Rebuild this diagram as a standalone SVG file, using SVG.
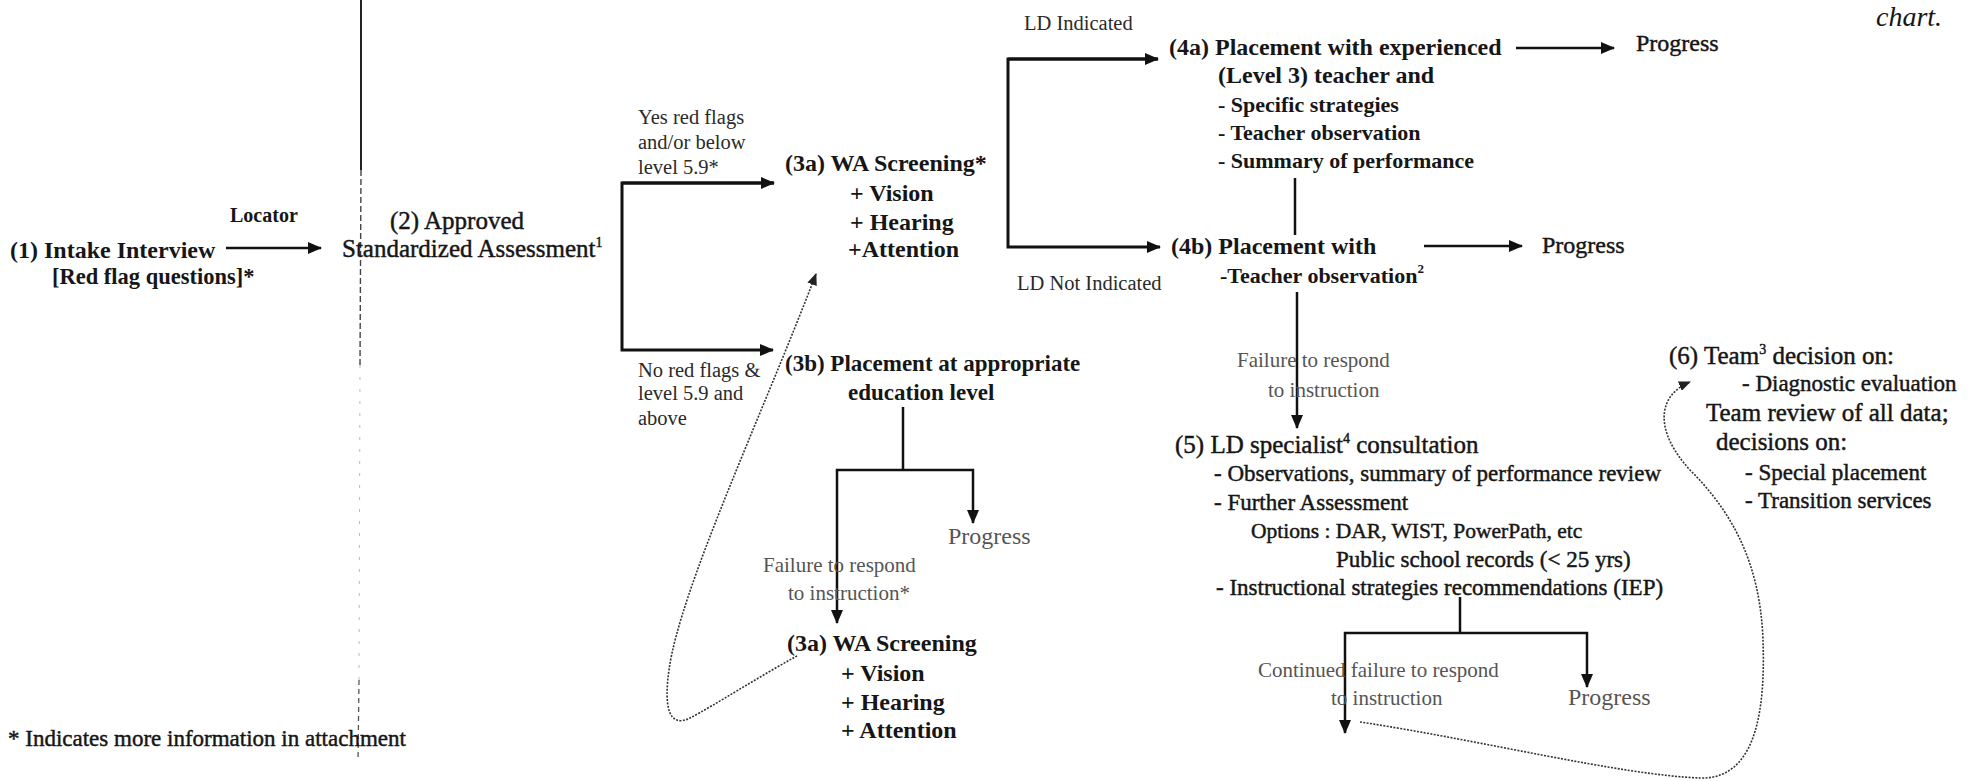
<svg xmlns="http://www.w3.org/2000/svg" width="1973" height="781" viewBox="0 0 1973 781">
<style>
text{font-family:"Liberation Serif","Times New Roman",serif;fill:#161616}
.b{font-weight:bold}
.r{stroke:#161616;stroke-width:0.45}
.m24{font-size:24px}
.m25{font-size:25px}
.m23{font-size:23px}
.m22{font-size:22px}
.lbl{font-size:20.5px;fill:#2a2a2a}
.gl{font-size:21px;fill:#555}
.gp{font-size:24px;fill:#555}
.ln{stroke:#111;stroke-width:2.5;fill:none}
.br{stroke:#111;stroke-width:3;fill:none}
.dot{stroke:#333;stroke-width:1.6;stroke-dasharray:2 1.4;fill:none}
</style>
<defs>
<marker id="ah" markerUnits="userSpaceOnUse" markerWidth="14" markerHeight="12" refX="13" refY="6" orient="auto">
<path d="M0,0 L14,6 L0,12 z" fill="#111"/>
</marker>
<marker id="ahs" markerUnits="userSpaceOnUse" markerWidth="12" markerHeight="10" refX="11" refY="5" orient="auto">
<path d="M0,0 L12,5 L0,10 z" fill="#222"/>
</marker>
</defs>
<rect width="1973" height="781" fill="#fff"/>

<g id="scanline">
<path d="M361 0 L361 170" stroke="#222" stroke-width="2" fill="none"/>
<path d="M361 170 L360 365" stroke="#444" stroke-width="1.4" stroke-dasharray="6 3" fill="none"/>
<path d="M360 365 L359 680" stroke="#bbb" stroke-width="1" stroke-dasharray="3 9" fill="none"/>
<path d="M359 680 L358 760" stroke="#555" stroke-width="1.3" stroke-dasharray="5 4" fill="none"/>
</g>

<g id="handwriting">
<text x="1876" y="26" font-size="28" font-style="italic" style="font-family:'Liberation Serif',serif">chart.</text>
</g>

<g id="n1">
<text class="b m24" x="10" y="258">(1) Intake Interview</text>
<text class="b" font-size="22.5" x="52" y="284">[Red flag questions]*</text>
</g>

<g id="n2">
<text class="m25 r" x="390" y="229">(2) Approved</text>
<text class="m25 r" x="342" y="257">Standardized Assessment<tspan font-size="14" dy="-10">1</tspan></text>
</g>

<g id="n3a">
<text class="b m24" x="785" y="171">(3a) WA Screening*</text>
<text class="b m24" x="850" y="201">+ Vision</text>
<text class="b m24" x="850" y="230">+ Hearing</text>
<text class="b m24" x="848" y="257">+Attention</text>
</g>

<g id="n3b">
<text class="b m23" x="785" y="371">(3b) Placement at appropriate</text>
<text class="b m23" x="848" y="400">education level</text>
</g>

<g id="n3a2">
<text class="b m24" x="787" y="651">(3a) WA Screening</text>
<text class="b m24" x="841" y="681">+ Vision</text>
<text class="b m24" x="841" y="710">+ Hearing</text>
<text class="b m24" x="841" y="738">+ Attention</text>
</g>

<g id="n4a">
<text class="b m24" x="1169" y="55">(4a) Placement with experienced</text>
<text class="b m24" x="1218" y="83">(Level 3) teacher and</text>
<text class="b m22" x="1218" y="112">- Specific strategies</text>
<text class="b m22" x="1218" y="140">- Teacher observation</text>
<text class="b m22" x="1218" y="168">- Summary of performance</text>
</g>

<g id="n4b">
<text class="b m24" x="1171" y="254">(4b) Placement with</text>
<text class="b m22" x="1220" y="283">-Teacher observation<tspan font-size="13" dy="-10">2</tspan></text>
</g>

<g id="p4a"><text class="m24 r" x="1636" y="51">Progress</text></g>
<g id="p4b"><text class="m24 r" x="1542" y="253">Progress</text></g>
<g id="p3b"><text class="gp" x="948" y="544">Progress</text></g>
<g id="p5"><text class="gp" x="1568" y="705">Progress</text></g>

<g id="n5">
<text class="m25 r" x="1175" y="453">(5) LD specialist<tspan font-size="14" dy="-10">4</tspan><tspan dy="10"> consultation</tspan></text>
<text class="m23 r" x="1214" y="481">- Observations, summary of performance review</text>
<text class="m23 r" x="1214" y="510">- Further Assessment</text>
<text class="r" x="1251" y="538" font-size="21.5">Options : DAR, WIST, PowerPath, etc</text>
<text class="m23 r" x="1336" y="567">Public school records (&lt; 25 yrs)</text>
<text class="m23 r" x="1216" y="595">- Instructional strategies recommendations (IEP)</text>
</g>

<g id="n6">
<text class="m25 r" x="1669" y="364">(6) Team<tspan font-size="14" dy="-10">3</tspan><tspan dy="10"> decision on:</tspan></text>
<text class="m23 r" x="1742" y="391">- Diagnostic evaluation</text>
<text class="m25 r" x="1706" y="421">Team review of all data;</text>
<text class="m25 r" x="1716" y="450">decisions on:</text>
<text class="m23 r" x="1745" y="480">- Special placement</text>
<text class="m23 r" x="1745" y="508">- Transition services</text>
</g>

<g id="footnote">
<text class="m23 r" x="8" y="746">* Indicates more information in attachment</text>
</g>

<g id="connectors">
<line class="ln" x1="226" y1="248" x2="321" y2="248" marker-end="url(#ah)"/>
<path class="br" d="M774 183 L622 183 L622 350 L773 350" marker-end="url(#ah)"/>
<line class="br" x1="622" y1="183" x2="774" y2="183" marker-end="url(#ah)"/>
<path class="br" d="M1158 59 L1008 59 L1008 247 L1160 247" marker-end="url(#ah)"/>
<line class="br" x1="1008" y1="59" x2="1158" y2="59" marker-end="url(#ah)"/>
<line class="ln" x1="1516" y1="48" x2="1614" y2="48" marker-end="url(#ah)"/>
<line class="ln" x1="1295" y1="178" x2="1295" y2="235"/>
<line class="ln" x1="1424" y1="246" x2="1522" y2="246" marker-end="url(#ah)"/>
<line class="ln" x1="1297" y1="292" x2="1297" y2="428" marker-end="url(#ah)"/>
<path class="ln" d="M903 407 L903 470"/>
<path class="ln" d="M903 470 L973 470 L973 523" marker-end="url(#ah)"/>
<path class="ln" d="M903 470 L837 470 L837 623" marker-end="url(#ah)"/>
<path class="ln" d="M1460 597 L1460 633"/>
<path class="ln" d="M1460 633 L1587 633 L1587 687" marker-end="url(#ah)"/>
<path class="ln" d="M1460 633 L1345 633 L1345 733" marker-end="url(#ah)"/>
<path class="dot" d="M797 656 C760 676 715 705 690 718 C668 729 664 705 669 670 C680 590 760 420 816 274" marker-end="url(#ahs)"/>
<path class="dot" d="M1360 722 C1480 740 1620 775 1700 778 C1760 780 1765 700 1763 640 C1760 560 1730 510 1690 470 C1655 432 1656 396 1690 382" marker-end="url(#ahs)"/>
</g>

<g id="labels">
<text x="230" y="222" style="font-weight:bold;font-size:20px">Locator</text>
<text class="lbl" x="638" y="124">Yes red flags</text>
<text class="lbl" x="638" y="149">and/or below</text>
<text class="lbl" x="638" y="174">level 5.9*</text>
<text class="lbl" x="638" y="377">No red flags &amp;</text>
<text class="lbl" x="638" y="400">level 5.9 and</text>
<text class="lbl" x="638" y="425">above</text>
<text class="lbl" x="1024" y="30">LD Indicated</text>
<text class="lbl" x="1017" y="290">LD Not Indicated</text>
<text class="gl" x="1237" y="367">Failure to respond</text>
<text class="gl" x="1268" y="397">to instruction</text>
<text class="gl" x="763" y="572">Failure to respond</text>
<text class="gl" x="788" y="600">to instruction*</text>
<text class="gl" x="1258" y="677">Continued failure to respond</text>
<text class="gl" x="1331" y="705">to instruction</text>
</g>
</svg>
